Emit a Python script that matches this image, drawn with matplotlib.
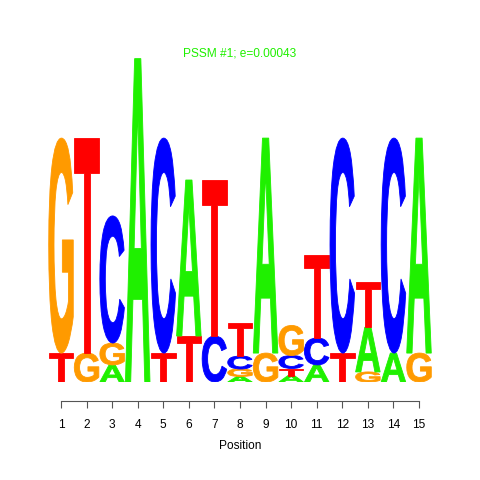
# Sequence logo for PSSM #1

import numpy as np
import matplotlib
matplotlib.use('Agg')
from matplotlib import pyplot as plt
from matplotlib.textpath import TextPath
from matplotlib.font_manager import FontProperties
from matplotlib.patches import PathPatch
from matplotlib.transforms import Affine2D

positions = list(range(1, 16))
# letter heights in bits, one value per position
heightA = [0.000, 0.000, 0.105, 1.990, 0.000, 0.960, 0.000, 0.034, 1.323, 0.040, 0.105, 0.000, 0.275, 0.178, 1.323]
heightC = [0.000, 0.000, 0.782, 0.000, 1.323, 0.000, 0.283, 0.080, 0.000, 0.080, 0.166, 1.323, 0.000, 1.323, 0.000]
heightG = [1.323, 0.178, 0.135, 0.000, 0.000, 0.000, 0.000, 0.046, 0.178, 0.185, 0.000, 0.000, 0.062, 0.000, 0.178]
heightT = [0.178, 1.323, 0.000, 0.000, 0.178, 0.283, 0.960, 0.203, 0.000, 0.043, 0.511, 0.178, 0.280, 0.000, 0.000]

title = 'PSSM #1; e=0.00043'
colours = {'A': '#1ff000', 'C': '#0000ff', 'G': '#ff9a00', 'T': '#ff0000'}
glyphfont = FontProperties(family='Liberation Sans', weight='bold')

def letter(ax, ch, x, y0, ht, wt=0.96):
    # stretch the glyph outline so it fills the box exactly
    tp = TextPath((0, 0), ch, size=1, prop=glyphfont)
    bb = tp.get_extents()
    tr = Affine2D().translate(-bb.x0, -bb.y0).scale(wt / bb.width, ht / bb.height).translate(x - wt / 2, y0)
    ax.add_patch(PathPatch(tr.transform_path(tp), facecolor=colours[ch], edgecolor=colours[ch], lw=0.6))

fig = plt.figure(figsize=(4.8, 4.8), dpi=100)
ax = fig.add_axes([48.2 / 480, 98 / 480, 383.6 / 480, 325 / 480])

table = {'A': heightA, 'C': heightC, 'G': heightG, 'T': heightT}
for i, p in enumerate(positions):
    stack = sorted([(table[ch][i], ch) for ch in 'ACGT'])
    y = 0
    for ht, ch in stack:
        if ht <= 0:
            continue
        letter(ax, ch, p, y, ht)
        y += ht

ax.set_xlim(0.5, 15.5)
ax.set_ylim(0, 2)
for s in ['top', 'right', 'left']:
    ax.spines[s].set_visible(False)
ax.spines['bottom'].set_position(('outward', 13.7))
ax.spines['bottom'].set_bounds(1, 15)
ax.spines['bottom'].set_color('#555555')
ax.spines['bottom'].set_linewidth(0.8)
ax.set_yticks([])
ax.set_xticks(positions)
ax.tick_params(axis='x', direction='out', length=4.7, width=0.8, color='#555555', labelsize=8.6, pad=8.5)
ax.set_xlabel('Position', fontsize=8.6, labelpad=6.5)
for t in ax.get_xticklabels():
    t.set_family('Liberation Sans')
ax.xaxis.label.set_family('Liberation Sans')

fig.text(0.5, 1 - 53 / 480, title, ha='center', va='center', color='#1ff000', fontsize=8.6, family='Liberation Sans')

plt.savefig('out.png', dpi=100)
